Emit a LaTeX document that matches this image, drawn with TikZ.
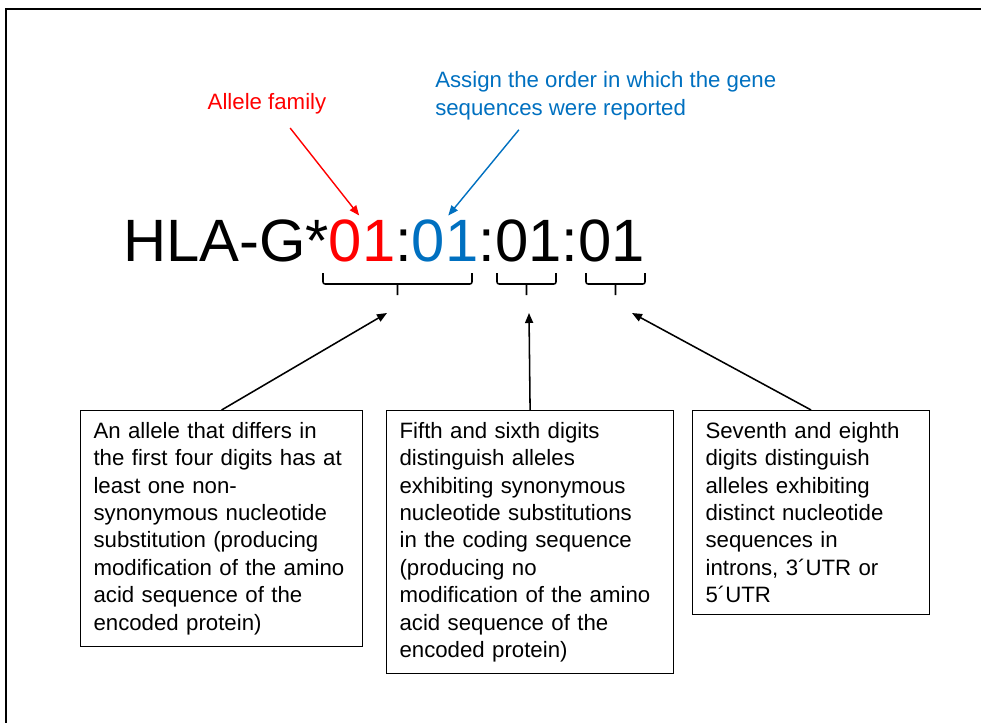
\documentclass[tikz,border=0pt]{standalone}
\usepackage{fontspec}
\setmainfont{Liberation Sans}
\usetikzlibrary{positioning,arrows.meta}
\definecolor{famred}{RGB}{255,0,0}
\definecolor{ordblue}{RGB}{0,112,192}
\newcommand{\notesize}{\fontsize{15.8}{19.5}\selectfont}
\newcommand{\codesize}{\fontsize{42.5}{50}\selectfont}

\begin{document}
\begin{tikzpicture}[x=0.025cm, y=-0.025cm,
    code/.style={inner sep=0pt, outer sep=0pt, font=\codesize},
    note/.style={inner sep=0pt, font=\notesize},
    infobox/.style={draw, line width=0.8pt, align=left, anchor=north west,
        inner xsep=0.325cm, inner ysep=0.29cm, font=\notesize},
    pointer/.style={-{Triangle[length=0.25cm, width=0.2cm]}, line width=1.1pt}]
\useasboundingbox (0,0) rectangle (981,723);
\draw[line width=1.4pt] (6,723) -- (6,9) -- (981,9);

% allele name, one node per field
\node[code, anchor=base west] (hla) at (123,261) {HLA-G*};
\node[code, famred, right=0pt of hla.base east, anchor=base west] (f1) {01};
\node[code, right=0pt of f1.base east, anchor=base west] (s1) {:};
\node[code, ordblue, right=0pt of s1.base east, anchor=base west] (f2) {01};
\node[code, right=0pt of f2.base east, anchor=base west] (f34) {:01:01};

% labels above
\node[note, famred, anchor=base] (fam) at (267,109) {Allele family};
\node[note, ordblue, align=left, anchor=base west] (ord) at (435,115)
    {Assign the order in which the gene\\sequences were reported};
\draw[pointer, famred, line width=1pt, shorten <=0.45cm, shorten >=0.12cm]
    ([xshift=0.3cm]fam.south) -- (f1.north);
\draw[pointer, ordblue, line width=1pt, shorten <=0.32cm, shorten >=0.12cm]
    ([xshift=2.3cm]ord.south west) -- (f2.north);

% brackets under the fields
\foreach \l/\r in {323/472, 497/556, 586/645}
  \draw[line width=1.1pt, rounded corners=1.5pt] (\l,273) -- (\l,284) -- (\r,284) -- (\r,273)
    ({(\l+\r)/2},284) -- ({(\l+\r)/2},295);

% explanations
\node[infobox, text width=6.4cm] (b1) at (80,410)
    {An allele that differs in\\the first four digits has at\\least one non-\\synonymous nucleotide\\substitution (producing\\modification of the amino\\acid sequence of the\\encoded protein)};
\node[infobox, text width=6.525cm] (b2) at (386,410)
    {Fifth and sixth digits\\distinguish alleles\\exhibiting synonymous\\nucleotide substitutions\\in the coding sequence\\(producing no\\modification of the amino\\acid sequence of the\\encoded protein)};
\node[infobox, text width=5.275cm] (b3) at (692,410)
    {Seventh and eighth\\digits distinguish\\alleles exhibiting\\distinct nucleotide\\sequences in\\introns, 3´UTR or\\5´UTR};

\coordinate (ta) at (387,313);
\coordinate (tb) at (529,313);
\coordinate (tc) at (632,313);
\draw[pointer] (b1.north) -- (ta);
\draw[pointer] (b2.north) -- (tb);
\draw[pointer] (b3.north) -- (tc);
\end{tikzpicture}
\end{document}
